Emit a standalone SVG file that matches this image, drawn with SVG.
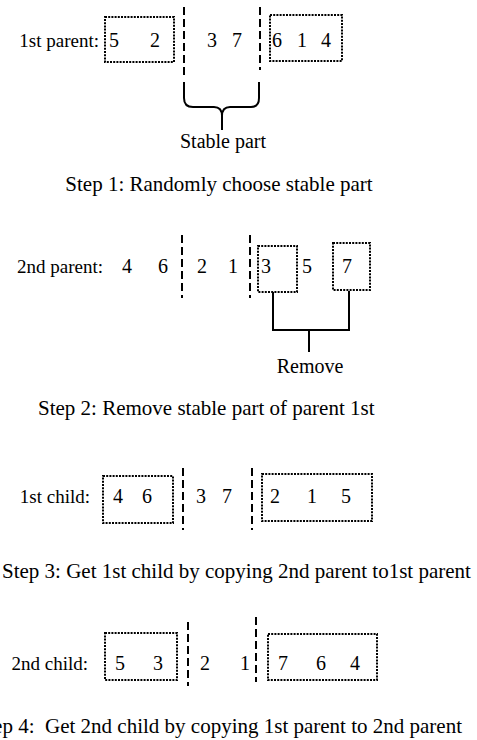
<svg xmlns="http://www.w3.org/2000/svg" width="477" height="740" viewBox="0 0 477 740">
<style>
text{font-family:"Liberation Serif","Times New Roman",serif;font-size:20px;fill:#000}
.lbl{text-anchor:end;font-size:19px}
.mid{text-anchor:middle}
.step{font-size:21px}
.box{fill:none;stroke:#000;stroke-width:2;stroke-dasharray:2,1.2}
.cut{fill:none;stroke:#000;stroke-width:2;stroke-dasharray:8,4}
.ln{fill:none;stroke:#000;stroke-width:2}
</style>
<rect width="477" height="740" fill="#fff"/>
<g id="parent1">
<text class="lbl" x="99" y="47">1st parent:</text>
<rect class="box" x="105" y="17" width="69" height="45"/>
<text x="109" y="47">5</text><text x="150" y="47">2</text>
<text x="207" y="47">3</text><text x="232" y="47">7</text>
<rect class="box" x="270" y="15" width="72" height="46"/>
<text x="272" y="47">6</text><text x="297" y="47">1</text><text x="321" y="47">4</text>
</g>
<g id="stable-label">
<text class="mid" x="223" y="148">Stable part</text>
<text class="mid step" x="219" y="191">Step 1: Randomly choose stable part</text>
</g>
<g id="parent2">
<text class="lbl" x="103" y="273">2nd parent:</text>
<text x="122" y="273">4</text><text x="158" y="273">6</text>
<text x="197" y="273">2</text><text x="228" y="273">1</text>
<rect class="box" x="258" y="246" width="39" height="46"/>
<text x="261" y="273">3</text><text x="302" y="273">5</text>
<rect class="box" x="333" y="243" width="37" height="47"/>
<text x="342" y="273">7</text>
</g>
<g id="remove-label">
<text class="mid" x="310" y="373">Remove</text>
<text class="step" x="38" y="415">Step 2: Remove stable part of parent 1st</text>
</g>
<g id="child1">
<text class="lbl" x="90" y="503">1st child:</text>
<rect class="box" x="103" y="476" width="70" height="47"/>
<text x="113" y="503">4</text><text x="142" y="503">6</text>
<text x="196" y="503">3</text><text x="222" y="503">7</text>
<rect class="box" x="262" y="474" width="110" height="47"/>
<text x="270" y="503">2</text><text x="307" y="503">1</text><text x="341" y="503">5</text>
<text class="step" x="2" y="578">Step 3: Get 1st child by copying 2nd parent to1st parent</text>
</g>
<g id="child2">
<text class="lbl" x="88" y="670">2nd child:</text>
<rect class="box" x="105" y="633" width="72" height="47"/>
<text x="115" y="670">5</text><text x="153" y="670">3</text>
<text x="200" y="670">2</text><text x="240" y="670">1</text>
<rect class="box" x="268" y="634" width="109" height="46"/>
<text x="278" y="670">7</text><text x="316" y="670">6</text><text x="350" y="670">4</text>
<text class="step" x="462" y="733" text-anchor="end" xml:space="preserve">Step 4:  Get 2nd child by copying 1st parent to 2nd parent</text>
</g>
<g id="connectors">
<line class="cut" x1="184" y1="7" x2="184" y2="75"/>
<line class="cut" x1="260" y1="7" x2="260" y2="70"/>
<path class="ln" d="M184,82 V98 Q184,107 193,107 H214 Q222,107 222,116 V130 M222,116 Q222,107 230,107 H251 Q259,107 259,98 V82"/>
<line class="cut" x1="182" y1="235" x2="182" y2="298"/>
<line class="cut" x1="250" y1="235" x2="250" y2="298"/>
<path class="ln" d="M273,292 V330 H349 V291 M309,330 V352"/>
<line class="cut" x1="183" y1="468" x2="183" y2="530"/>
<line class="cut" x1="252" y1="468" x2="252" y2="530"/>
<line class="cut" x1="188" y1="622" x2="188" y2="686"/>
<line class="cut" x1="256" y1="617" x2="256" y2="682"/>
</g>
</svg>
